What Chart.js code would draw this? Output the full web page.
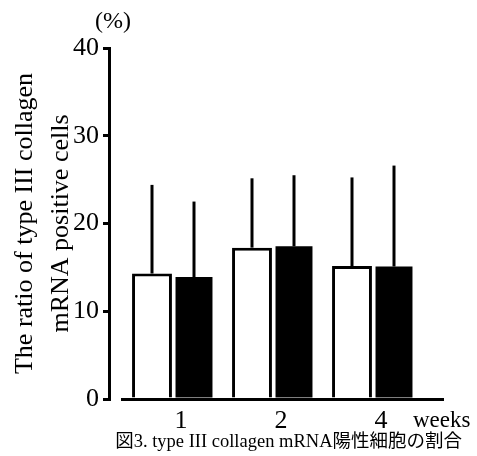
<!DOCTYPE html>
<html>
<head>
<meta charset="utf-8">
<script src="https://cdn.jsdelivr.net/npm/chart.js@4/dist/chart.umd.min.js"></script>
<style>
html,body{margin:0;padding:0;background:#fff;}
#wrap{width:477px;height:456px;}
</style>
</head>
<body>
<div id="wrap"><canvas id="c" width="477" height="456"></canvas></div>
<script>
// ---- data ----
const weekLabels = ['1', '2', '4'];
const weekPositions = [1, 2, 3];
const whiteMeans = [14.3, 17.25, 15.15];
const whiteSD    = [10.1, 7.9, 10.1];
const blackMeans = [13.9, 17.4, 15.1];
const blackSD    = [8.6, 8.1, 11.5];
const yTicks = [0, 10, 20, 30, 40];
const yTitle = ['The ratio of type III collagen', 'mRNA positive cells'];
const unitLabel = '(%)';
const xUnit = 'weeks';
const caption = '図3. type III collagen mRNA陽性細胞の割合';

const SERIF = '"Liberation Serif", "Times New Roman", serif';

function pts(vals){ return vals.map((v,i)=>({x: weekPositions[i], y: v})); }

const errorBars = {
  id: 'errorBars',
  afterDatasetsDraw(chart){
    const ctx = chart.ctx, y = chart.scales.y;
    ctx.save();
    ctx.strokeStyle = '#000';
    ctx.lineWidth = 3;
    ctx.lineCap = 'butt';
    chart.data.datasets.forEach((ds, di) => {
      const meta = chart.getDatasetMeta(di);
      meta.data.forEach((bar, j) => {
        const top = y.getPixelForValue(ds.data[j].y + ds.sd[j]);
        ctx.beginPath();
        ctx.moveTo(bar.x, bar.y);
        ctx.lineTo(bar.x, top);
        ctx.stroke();
      });
    });
    ctx.restore();
  }
};

const decorations = {
  id: 'decorations',
  afterDraw(chart){
    const ctx = chart.ctx, a = chart.chartArea;
    ctx.save();
    ctx.fillStyle = '#000';
    ctx.strokeStyle = '#000';
    // x baseline
    ctx.lineWidth = 3;
    ctx.beginPath();
    ctx.moveTo(a.left + 12, a.bottom + 0.5);
    ctx.lineTo(a.right, a.bottom + 0.5);
    ctx.stroke();
    // (%)
    ctx.font = '24px ' + SERIF;
    ctx.textAlign = 'center';
    ctx.textBaseline = 'middle';
    ctx.fillText(unitLabel, a.left + 4, a.top - 26);
    // weeks
    ctx.font = '23px ' + SERIF;
    ctx.textAlign = 'left';
    ctx.textBaseline = 'alphabetic';
    ctx.fillText(xUnit, a.right - 31, a.bottom + 28);
    // caption
    ctx.font = '18.5px "Liberation Serif", "Noto Sans CJK JP", serif';
    ctx.textAlign = 'right';
    ctx.textBaseline = 'middle';
    ctx.fillText(caption, chart.width - 15, a.bottom + 43);
    ctx.restore();
  }
};

new Chart(document.getElementById('c'), {
  type: 'bar',
  data: {
    datasets: [
      { label: 'white', data: pts(whiteMeans), sd: whiteSD,
        backgroundColor: '#fff', borderColor: '#000', borderWidth: 3,
        barPercentage: 0.95, categoryPercentage: 0.84 },
      { label: 'black', data: pts(blackMeans), sd: blackSD,
        backgroundColor: '#000', borderColor: '#000', borderWidth: 0,
        barPercentage: 0.88, categoryPercentage: 0.84 }
    ]
  },
  options: {
    responsive: false,
    animation: false,
    devicePixelRatio: 1,
    layout: { padding: { top: 48, right: 33, bottom: 0, left: 0 } },
    plugins: { legend: { display: false }, tooltip: { enabled: false }, title: { display: false } },
    scales: {
      x: {
        type: 'linear',
        offset: false,
        min: 0.36, max: 3.71,
        grid: { display: false, drawTicks: false },
        border: { display: false },
        afterBuildTicks(scale){ scale.ticks = weekPositions.map(v => ({ value: v })); },
        afterFit(scale){ scale.height = 57; },
        ticks: {
          callback: (v) => weekLabels[weekPositions.indexOf(v)] ?? '',
          font: { family: SERIF, size: 26 },
          color: '#000',
          padding: 7,
          labelOffset: 8,
          maxRotation: 0,
          autoSkip: false
        }
      },
      y: {
        min: 0, max: 40,
        afterBuildTicks(scale){ scale.ticks = yTicks.map(v => ({ value: v })); },
        afterFit(scale){ scale.width = 109; },
        grid: { drawOnChartArea: false, drawTicks: true, tickLength: 6, color: '#000', lineWidth: 3 },
        border: { display: true, color: '#000', width: 3 },
        ticks: {
          font: { family: SERIF, size: 26 },
          color: '#000',
          padding: 4
        },
        title: {
          display: true,
          text: yTitle,
          font: { family: SERIF, size: 26, lineHeight: 1.38 },
          color: '#000',
          padding: { top: 7, bottom: 0 }
        }
      }
    }
  },
  plugins: [errorBars, decorations]
});
</script>
</body>
</html>
